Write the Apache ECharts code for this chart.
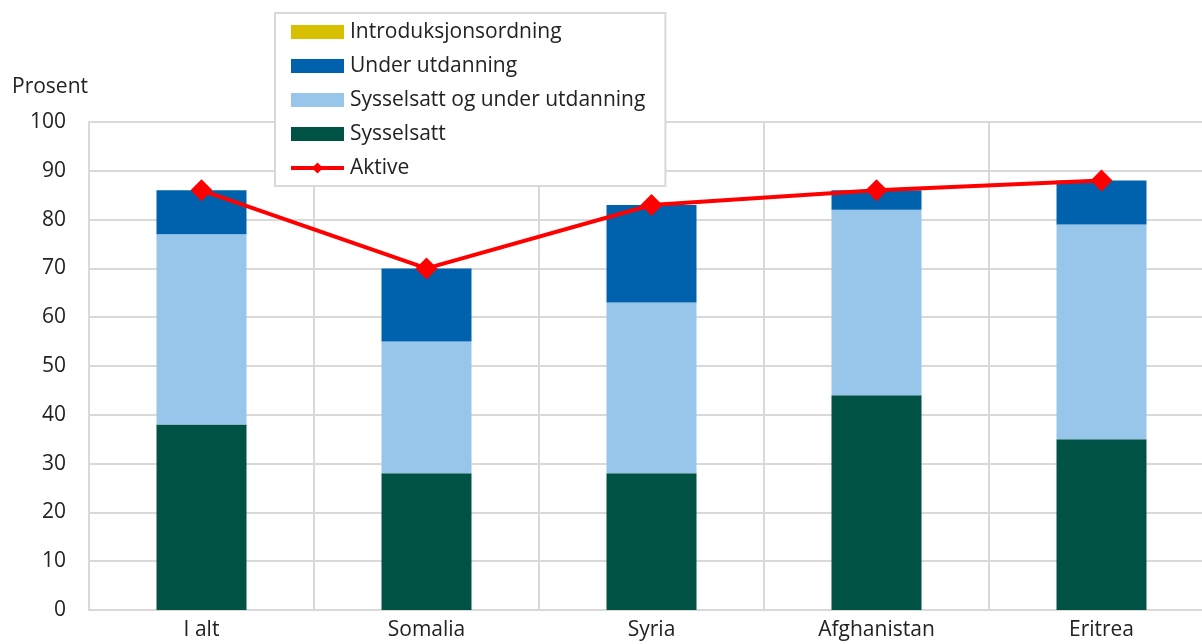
<!DOCTYPE html>
<html>
<head>
<meta charset="utf-8">
<script src="https://cdn.jsdelivr.net/npm/echarts@6/dist/echarts.min.js"></script>
<style>
html,body{margin:0;padding:0;background:#fff;overflow:hidden;width:1202px;height:644px;}
#chart{width:1230px;height:644px;}
</style>
</head>
<body>
<div id="chart"></div>
<script>
const categories = ['I alt', 'Somalia', 'Syria', 'Afghanistan', 'Eritrea'];
const sysselsatt = [38, 28, 28, 44, 35];
const sysselsattOgUtdanning = [39, 27, 35, 38, 44];
const underUtdanning = [9, 15, 20, 4, 9];
const introduksjonsordning = [0, 0, 0, 0, 0];
const aktive = [86, 70, 83, 86, 88];
const yTicks = [0, 100, 10];

const font = '"Open Sans", "Noto Sans", sans-serif';
const chart = echarts.init(document.getElementById('chart'));
chart.setOption({
  animation: false,
  textStyle: { fontFamily: font },
  grid: { left: 89, top: 122, width: 1125, height: 488, containLabel: false },
  graphic: [{
    type: 'text', left: 12, top: 77,
    style: { text: 'Prosent', font: '21px ' + font, fill: '#222' }
  }],
  legend: {
    orient: 'vertical',
    left: 275, top: 13,
    padding: [7, 20, 6, 14],
    backgroundColor: '#fff',
    borderColor: '#d9d9d9',
    borderWidth: 2,
    itemWidth: 53,
    itemHeight: 14,
    itemGap: 10,
    textStyle: { fontSize: 21, color: '#222', fontFamily: font, padding: [0, 0, 0, 1], lineHeight: 24 },
    data: [
      { name: 'Introduksjonsordning', icon: 'rect' },
      { name: 'Under utdanning', icon: 'rect' },
      { name: 'Sysselsatt og under utdanning', icon: 'rect' },
      { name: 'Sysselsatt', icon: 'rect' },
      { name: 'Aktive', itemStyle: { color: '#ff0000' }, lineStyle: { width: 4, color: '#ff0000' } }
    ]
  },
  xAxis: {
    type: 'category',
    data: categories,
    boundaryGap: true,
    axisLine: { show: true, lineStyle: { color: '#d9d9d9', width: 2 } },
    axisTick: { show: false },
    splitLine: { show: true, lineStyle: { color: '#d9d9d9', width: 2 } },
    axisLabel: { fontSize: 21, color: '#222', margin: 10, fontFamily: font }
  },
  yAxis: {
    type: 'value',
    min: yTicks[0], max: yTicks[1], interval: yTicks[2],
    axisLine: { show: true, lineStyle: { color: '#d9d9d9', width: 2 } },
    axisTick: { show: false },
    splitLine: { show: true, lineStyle: { color: '#d9d9d9', width: 2 } },
    axisLabel: { fontSize: 21, color: '#222', margin: 23, fontFamily: font }
  },
  series: [
    { name: 'Sysselsatt', type: 'bar', stack: 'a', barWidth: '40%', data: sysselsatt, itemStyle: { color: '#005344' } },
    { name: 'Sysselsatt og under utdanning', type: 'bar', stack: 'a', data: sysselsattOgUtdanning, itemStyle: { color: '#97c6ea' } },
    { name: 'Under utdanning', type: 'bar', stack: 'a', data: underUtdanning, itemStyle: { color: '#0062ac' } },
    { name: 'Introduksjonsordning', type: 'bar', stack: 'a', data: introduksjonsordning, itemStyle: { color: '#d7c000' } },
    { name: 'Aktive', type: 'line', data: aktive, symbol: 'diamond', symbolSize: 22,
      lineStyle: { color: '#ff0000', width: 4 }, itemStyle: { color: '#ff0000' }, z: 10 }
  ]
});
</script>
</body>
</html>
